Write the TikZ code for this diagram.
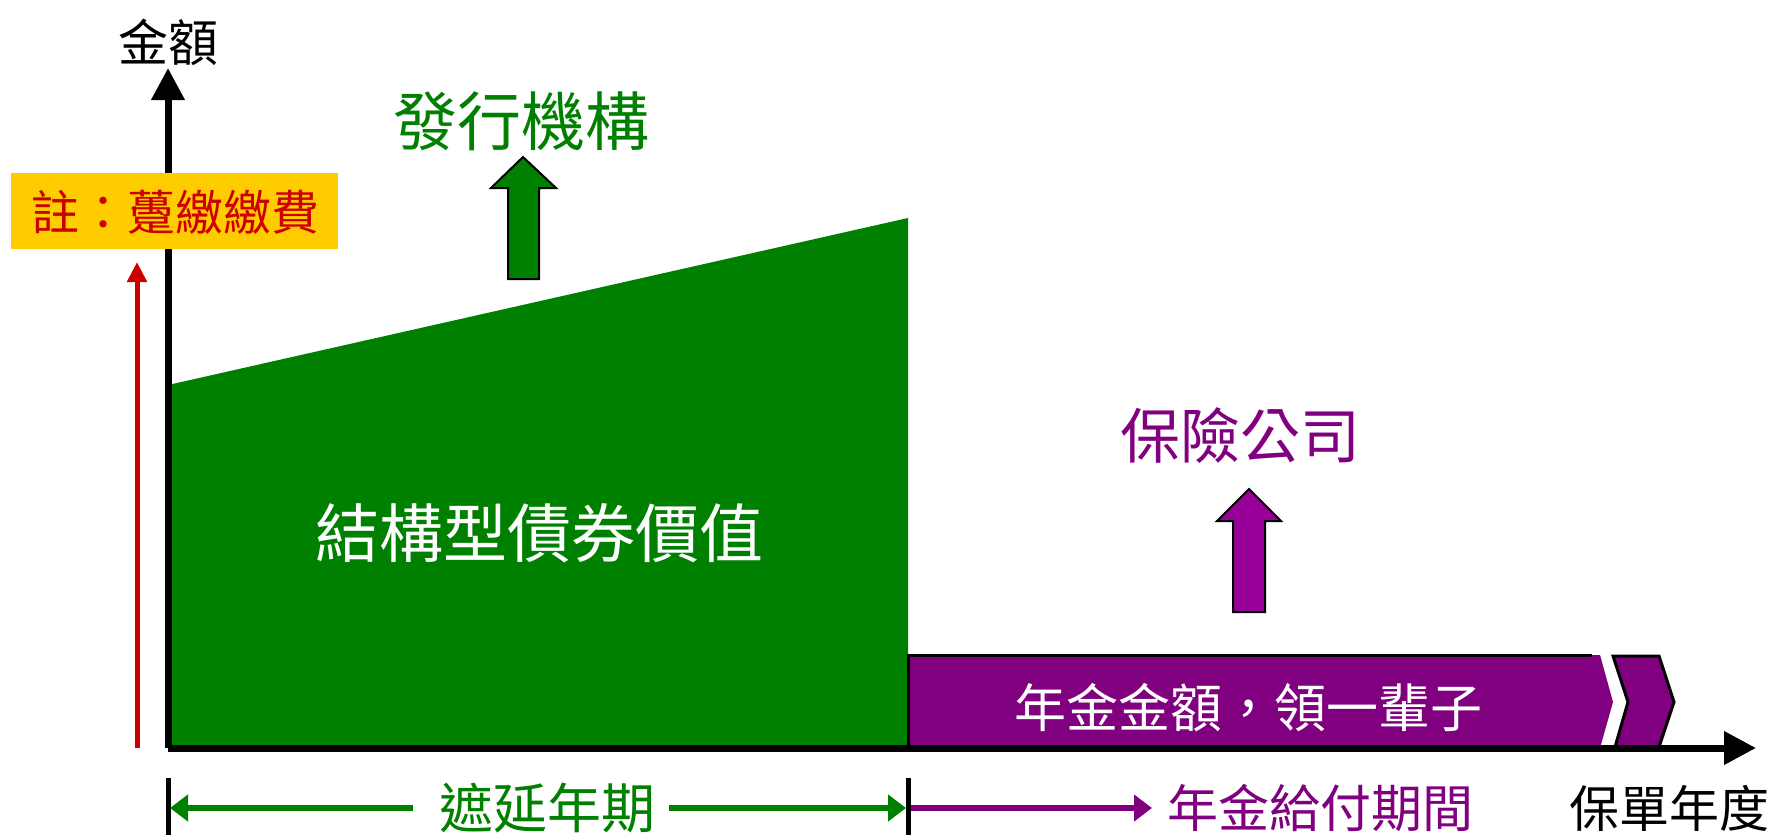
\documentclass[tikz,border=0pt]{standalone}
\usepackage{fontspec}
\newfontfamily\cjk{Noto Sans CJK TC}
\usetikzlibrary{arrows.meta}
\definecolor{dgreen}{HTML}{008000}
\definecolor{dpurple}{HTML}{800080}
\definecolor{lpurple}{HTML}{990099}
\definecolor{notered}{HTML}{CC0000}
\definecolor{noteyellow}{HTML}{FFCC00}
\newcommand{\fs}[1]{\cjk\fontsize{#1}{#1}\selectfont}
\tikzset{
  lbl/.style={inner sep=0pt, anchor=center},
  axisline/.style={line width=7pt, -{Triangle[length=32pt,width=32pt]}},
  tickline/.style={line width=5pt},
  spanarrow/.style={line width=6pt, -{Triangle[length=18pt,width=26pt]}},
  blockarrow/.style={draw=black, line width=2pt},
}
\begin{document}
\begin{tikzpicture}[x=1pt,y=-1pt]
\useasboundingbox (0,0) rectangle (1777,835);
% coordinates
\coordinate (O) at (168,748);
\coordinate (ytip) at (168,68);
\coordinate (xtip) at (1756,748);
\coordinate (redbot) at (137,748);
\coordinate (redtop) at (137,262);
\coordinate (tickLt) at (168,778);
\coordinate (tickLb) at (168,835);
\coordinate (tickRt) at (908,778);
\coordinate (tickRb) at (908,835);
\coordinate (spanL) at (170,808);
\coordinate (spanR) at (906,808);
\coordinate (spanM) at (911,808);
\coordinate (payEnd) at (1152,808);

% green bond value area
\fill[dgreen] (168,385) -- (908,218) -- (908,748) -- (168,748) -- cycle;

% purple annuity bar
\fill[dpurple] (908,655) -- (1600,655) -- (1613,702) -- (1600,748) -- (908,748) -- cycle;
\draw[line width=3pt] (908,748) -- (908,655) -- (1592,655);
\filldraw[fill=dpurple, draw=black, line width=3pt, line join=miter]
  (1613,656) -- (1659,656) -- (1674,702) -- (1659,747) -- (1615,747) -- (1628,702) -- cycle;

% block arrows
\filldraw[blockarrow, fill=dgreen] (508,279) -- (508,188) -- (491,188) -- (523,157) -- (556,188) -- (539,188) -- (539,279) -- cycle;
\filldraw[blockarrow, fill=lpurple] (1233,612) -- (1233,521) -- (1217,521) -- (1249,489) -- (1281,521) -- (1265,521) -- (1265,612) -- cycle;

% axes
\draw[axisline] (O) -- (ytip);
\draw[axisline] (O) -- (xtip);

% note box and red arrow
\node[lbl, fill=noteyellow, minimum width=327pt, minimum height=76pt] (note) at (174.5,211) {};
\node[lbl, text=notered, font=\fs{48}] (notetext) at (175,212) {註：躉繳繳費};
\draw[line width=5pt, notered, -{Triangle[length=20pt,width=19pt]}] (redbot) -- (redtop);

% labels
\node[lbl, font=\fs{50}] (yl) at (168,42) {金額};
\node[lbl, font=\fs{50}] (xl) at (1669,808) {保單年度};
\node[lbl, text=dgreen, font=\fs{64}] (issuer) at (521,121) {發行機構};
\node[lbl, text=dpurple, font=\fs{60}] (insurer) at (1240,436) {保險公司};
\node[lbl, text=white, font=\fs{64}] (bond) at (539,533) {結構型債券價值};
\node[lbl, text=white, font=\fs{52}] (annuity) at (1248,708) {年金金額，領一輩子};
\node[lbl, text=dgreen, font=\fs{54}] (delay) at (547,808) {遮延年期};
\node[lbl, text=dpurple, font=\fs{51}] (pay) at (1320,808) {年金給付期間};

% period ticks and span arrows
\draw[tickline] (tickLt) -- (tickLb);
\draw[tickline] (tickRt) -- (tickRb);
\draw[spanarrow, dgreen] ([xshift=-26pt]delay.west) -- (spanL);
\draw[spanarrow, dgreen] ([xshift=14pt]delay.east) -- (spanR);
\draw[spanarrow, dpurple] (spanM) -- (payEnd);
\end{tikzpicture}
\end{document}
